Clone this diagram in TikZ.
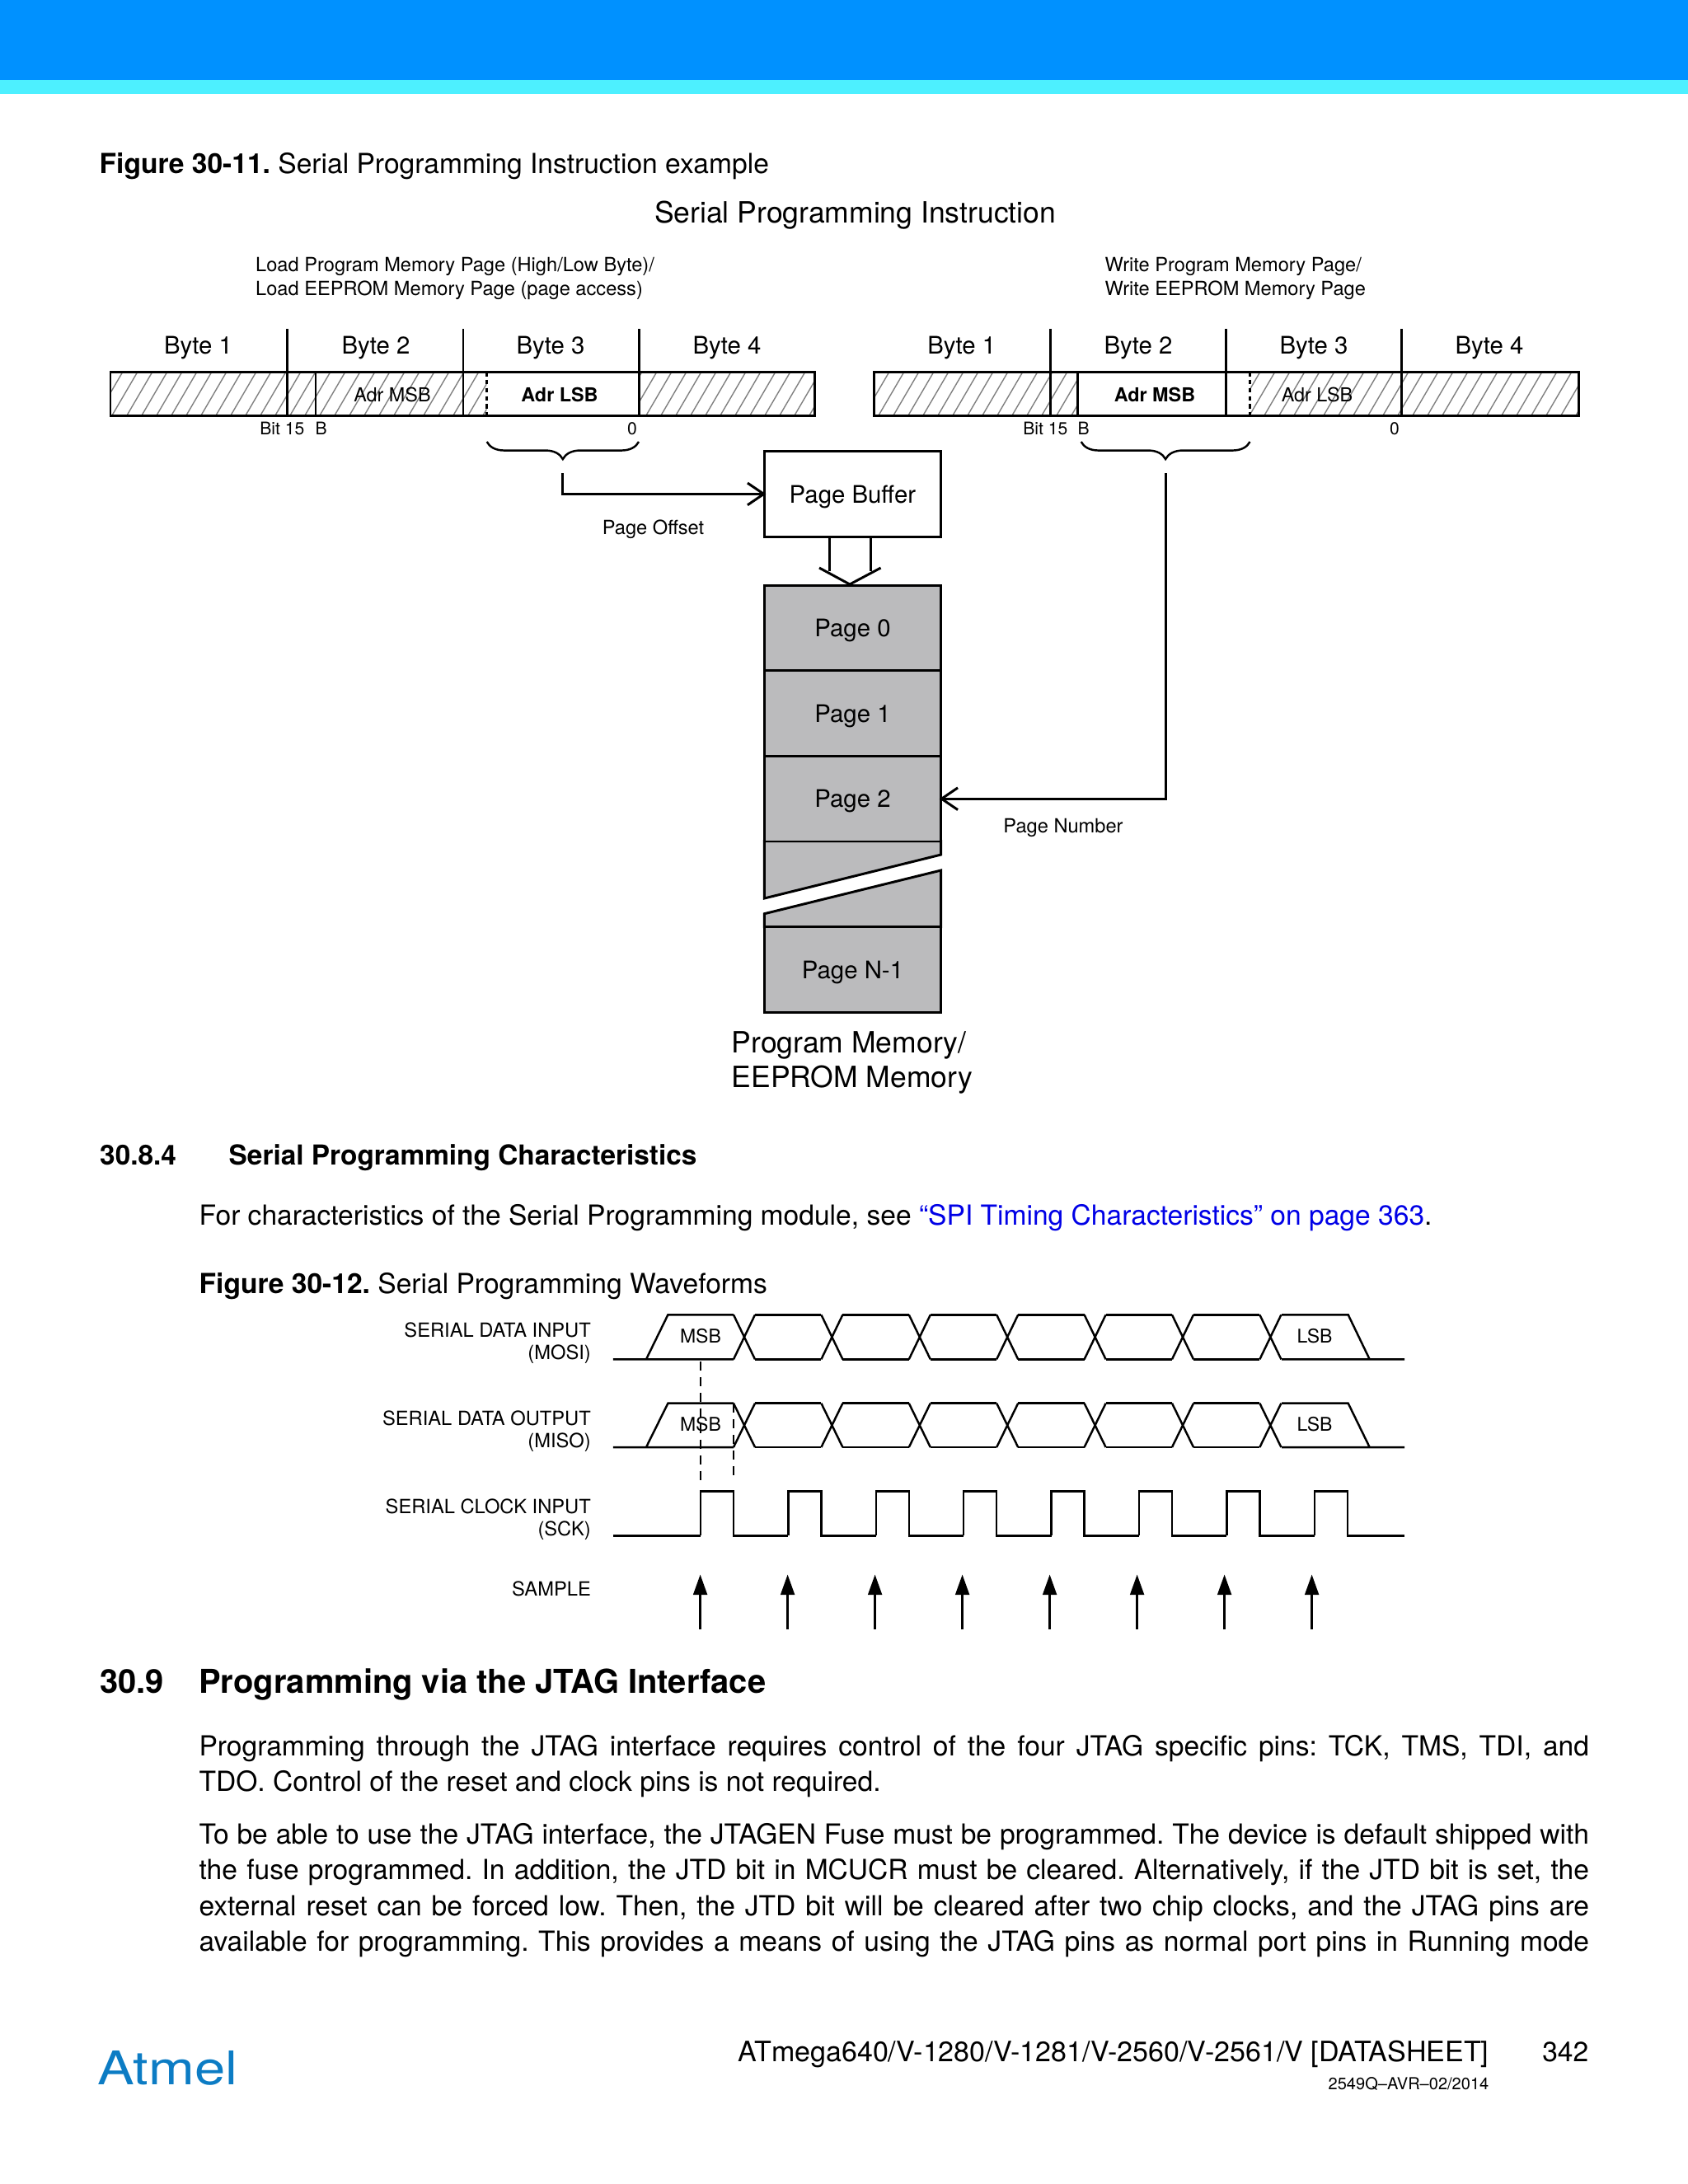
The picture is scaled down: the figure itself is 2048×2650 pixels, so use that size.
\documentclass[tikz,border=0pt]{standalone}
\usepackage{fontspec}
\setmainfont{TeX Gyre Heros}
\usetikzlibrary{arrows.meta, decorations.pathreplacing}
\definecolor{hdrblue}{HTML}{0091FF}
\definecolor{hdrcyan}{HTML}{4DF0FF}
\definecolor{pagegray}{HTML}{BBBBBD}
\definecolor{linkblue}{HTML}{0000E6}
\definecolor{logoblue}{HTML}{0C7CC4}
\frenchspacing
\begin{document}
\begin{tikzpicture}[x=0.01cm, y=-0.01cm, >={Straight Barb[length=5.6pt, width=7.6pt]},
  txt/.style={inner sep=0pt, anchor=base west},
  body/.style={txt, font=\fontsize{9.55}{11}\selectfont},
  byte/.style={inner sep=0pt, anchor=base, font=\fontsize{8.35}{10}\selectfont},
  small/.style={txt, font=\fontsize{6.72}{8}\selectfont},
  tiny/.style={txt, font=\fontsize{6}{7}\selectfont},
  adr/.style={inner sep=0pt, anchor=base, font=\fontsize{6.65}{8}\selectfont},
  sig/.style={inner sep=0pt, anchor=base east, font=\fontsize{6.74}{8}\selectfont},
  lsig/.style={inner sep=0pt, anchor=base, font=\fontsize{6.54}{8}\selectfont},
  pagebox/.style={draw, line width=0.85pt, fill=pagegray, minimum width=2.143cm, minimum height=1.035cm, inner sep=0pt, text depth=0pt, font=\fontsize{8.35}{10}\selectfont},
  rule/.style={line width=0.85pt},
  wave/.style={line width=0.7pt},
  hatchline/.style={line width=0.4pt, black!50},
  bracket/.style={line width=0.7pt, decorate, decoration={brace, mirror, amplitude=6pt}}]
\useasboundingbox (0,0) rectangle (2048,2650);
\fill[hdrblue] (0,0) rectangle (2048,97);
\fill[hdrcyan] (0,97) rectangle (2048,114);

\node[body] (figa) at (120,210) {\textbf{Figure 30-11.} Serial Programming Instruction example};
\node[inner sep=0pt, anchor=base, font=\fontsize{10.1}{12}\selectfont] (title) at (1037.5,270.5) {Serial Programming Instruction};
\node[small] (loada) at (309.5,329) {Load Program Memory Page (High/Low Byte)/};
\node[small] (loadb) at (309.5,358) {Load EEPROM Memory Page (page access)};
\node[small] (writea) at (1340,329) {Write Program Memory Page/};
\node[small] (writeb) at (1340,358) {Write EEPROM Memory Page};

\begin{scope}
\clip (134,451) rectangle (590.7,504) (775,451) rectangle (988,504);
\foreach \hx in {100,118,...,1000} \draw[hatchline] (\hx,504) -- ++(31,-53);
\end{scope}
\begin{scope}
\clip (1060,451) rectangle (1307,504) (1516.5,451) rectangle (1915,504);
\foreach \hx in {1030,1048,...,1930} \draw[hatchline] (\hx,504) -- ++(31,-53);
\end{scope}
\draw[rule] (134,451) rectangle (988,504);
\draw[rule] (1060,451) rectangle (1915,504);
\foreach \dx in {348.5,562,775,1274,1487.7,1700.7} \draw[rule] (\dx,399) -- (\dx,504);
\draw[rule] (383,451) -- (383,504) (1307,451) -- (1307,504);
\draw[wave, dash pattern=on 1.6pt off 1.2pt] (590.7,451) -- (590.7,504);
\draw[wave, dash pattern=on 1.6pt off 1.2pt] (1516.5,451) -- (1516.5,504);

\node[byte] (l1) at (240.5,429.5) {Byte 1};
\node[byte] (l2) at (456,429.5) {Byte 2};
\node[byte] (l3) at (668,429.5) {Byte 3};
\node[byte] (l4) at (882,429.5) {Byte 4};
\node[byte] (r1) at (1166.7,429.5) {Byte 1};
\node[byte] (r2) at (1381,429.5) {Byte 2};
\node[byte] (r3) at (1594,429.5) {Byte 3};
\node[byte] (r4) at (1807,429.5) {Byte 4};
\node[adr] (lmsb) at (476,487) {Adr MSB};
\node[adr] (llsb) at (679,487) {\textbf{Adr LSB}};
\node[adr] (rmsb) at (1401,487) {\textbf{Adr MSB}};
\node[adr] (rlsb) at (1598,487) {Adr LSB};
\node[tiny, anchor=base east] (lbit) at (370,527) {Bit 15};
\node[tiny] (lb) at (382,527) {B};
\node[tiny, anchor=base] (lzero) at (767,527) {0};
\node[tiny, anchor=base east] (rbit) at (1296,527) {Bit 15};
\node[tiny] (rb) at (1307,527) {B};
\node[tiny, anchor=base] (rzero) at (1692,527) {0};

\coordinate (offsetlead) at (682.6,574);
\coordinate (numberlead) at (1414,574);
\coordinate (bufleft) at (1006.6,652);
\coordinate (bufright) at (1056,652);
\coordinate (headtip) at (1031,709);
\draw[bracket] (590.7,536) -- (775,536);
\draw[bracket] (1311.7,536) -- (1516.5,536);

\node[draw, line width=0.85pt, minimum width=2.143cm, minimum height=1.047cm, inner sep=0pt, text depth=0pt, font=\fontsize{8.35}{10}\selectfont] (pagebuf) at (1034.5,599.4) {Page Buffer};
\draw[->, rule, shorten >=-1pt] (offsetlead) |- (pagebuf);
\node[small, anchor=base] (offset) at (792.5,648) {Page Offset};
\draw[rule] (bufleft) -- ++(0,41) (bufright) -- ++(0,41);
\draw[rule] (994,689) -- (headtip) -- (1068.6,689);

\draw[rule, fill=pagegray] (927.4,1020.7) -- (1141.7,1020.7) -- (1141.7,1037) -- (927.4,1090) -- cycle;
\draw[rule, fill=pagegray] (927.4,1108.7) -- (1141.7,1056) -- (1141.7,1124.7) -- (927.4,1124.7) -- cycle;
\node[pagebox] (page0) at (1034.5,761.8) {Page 0};
\node[pagebox] (page1) at (1034.5,865.6) {Page 1};
\node[pagebox] (page2) at (1034.5,969.2) {Page 2};
\node[pagebox] (pagen) at (1034.5,1176.7) {Page N-1};
\draw[->, rule, shorten >=-1pt] (numberlead) |- (page2);
\node[small, anchor=base] (number) at (1290,1010) {Page Number};
\node[inner sep=0pt, anchor=base west, font=\fontsize{10.1}{12}\selectfont] (memorya) at (887,1277) {Program Memory/};
\node[inner sep=0pt, anchor=base west, font=\fontsize{10.1}{12}\selectfont] (memoryb) at (887,1319.5) {EEPROM Memory};

\node[txt, font=\fontsize{9.49}{12}\selectfont\bfseries] (seca) at (120.5,1413.5) {30.8.4};
\node[txt, font=\fontsize{9.49}{12}\selectfont\bfseries] (secb) at (277,1413.5) {Serial Programming Characteristics};
\node[body] (para) at (241,1486) {For characteristics of the Serial Programming module, see \textcolor{linkblue}{“SPI Timing Characteristics” on page 363}.};
\node[body] (figb) at (241,1569.5) {\textbf{Figure 30-12.} Serial Programming Waveforms};

\node[sig] (sa) at (717.5,1622.5) {SERIAL DATA INPUT};
\node[sig] (sb) at (717.5,1649) {(MOSI)};
\node[sig] (sc) at (717.5,1729.5) {SERIAL DATA OUTPUT};
\node[sig] (sd) at (717.5,1756) {(MISO)};
\node[sig] (se) at (717.5,1836.5) {SERIAL CLOCK INPUT};
\node[sig] (sf) at (717.5,1863) {(SCK)};
\node[sig] (sg) at (717.5,1936) {SAMPLE};
\foreach \top/\bot in {1595.3/1649.3, 1702.7/1756} {
  \draw[wave] (743.8,\bot) -- (890,\bot) (784,\bot) -- (810.4,\top) -- (890,\top);
  \draw[wave] (1555,\bot) -- (1704,\bot) (1555,\top) -- (1635.7,\top) -- (1661.7,\bot);
  \foreach \i in {0,...,6} {
    \pgfmathsetmacro{\cx}{903+106.4*\i}
    \draw[wave] (\cx-13,\top) -- (\cx+13,\bot) (\cx-13,\bot) -- (\cx+13,\top);
    \ifnum\i<6 \draw[wave] (\cx+13,\top) -- (\cx+93.4,\top) (\cx+13,\bot) -- (\cx+93.4,\bot); \fi
  }
}
\node[lsig] (mi) at (850,1629) {MSB};
\node[lsig] (mo) at (850,1736) {MSB};
\node[lsig] (li) at (1595,1629) {LSB};
\node[lsig] (lo) at (1595,1736) {LSB};
\draw[wave, dash pattern=on 3.2pt off 2.2pt] (850,1652) -- (850,1797);
\draw[wave, dash pattern=on 3.2pt off 2.2pt] (890,1703) -- (890,1797);
\draw[wave] (743.8,1863.3) -- (850,1863.3);
\foreach \i in {0,...,7} {
  \pgfmathsetmacro{\rx}{850+106.4*\i}
  \pgfmathsetmacro{\ax}{849.6+106*\i}
  \draw[wave] (\rx,1863.3) -- (\rx,1809.3) -- (\rx+40,1809.3) -- (\rx+40,1863.3) -- (\rx+106.4,1863.3);
  \draw[wave, -{Stealth[length=7pt, width=4.8pt, inset=0pt]}] (\ax,1977) -- (\ax,1910.5);
}
\draw[wave] (1635,1863.3) -- (1704,1863.3);

\node[txt, font=\fontsize{11.35}{14}\selectfont\bfseries] (jtaga) at (120.5,2054.5) {30.9};
\node[txt, font=\fontsize{11.35}{14}\selectfont\bfseries] (jtagb) at (240.5,2054.5) {Programming via the JTAG Interface};
\node[body] (ja) at (240.8,2130) {\hbox to 479.6pt{Programming through the JTAG interface requires control of the four JTAG specific pins: TCK, TMS, TDI, and}};
\node[body] (jb) at (240.8,2173) {TDO. Control of the reset and clock pins is not required.};
\node[body] (jc) at (240.8,2237) {\hbox to 479.6pt{To be able to use the JTAG interface, the JTAGEN Fuse must be programmed. The device is default shipped with}};
\node[body] (jd) at (240.8,2280) {\hbox to 479.6pt{the fuse programmed. In addition, the JTD bit in MCUCR must be cleared. Alternatively, if the JTD bit is set, the}};
\node[body] (je) at (240.8,2324) {\hbox to 479.6pt{external reset can be forced low. Then, the JTD bit will be cleared after two chip clocks, and the JTAG pins are}};
\node[body] (jf) at (240.8,2367.5) {\hbox to 479.6pt{available for programming. This provides a means of using the JTAG pins as normal port pins in Running mode}};

\node[inner sep=0pt, anchor=base west, text=logoblue, font=\fontsize{16}{20}\selectfont] (logo) at (117.5,2529) {\scalebox{1.19}[1]{Atmel}};
\node[inner sep=0pt, anchor=base east, font=\fontsize{9.68}{11}\selectfont] (device) at (1807,2501.7) {ATmega640/V-1280/V-1281/V-2560/V-2561/V [DATASHEET]};
\node[body, anchor=base east] (pageno) at (1928,2501.7) {342};
\node[inner sep=0pt, anchor=base east, font=\fontsize{5.7}{7}\selectfont] (docid) at (1807,2535) {2549Q–AVR–02/2014};
\end{tikzpicture}
\end{document}
